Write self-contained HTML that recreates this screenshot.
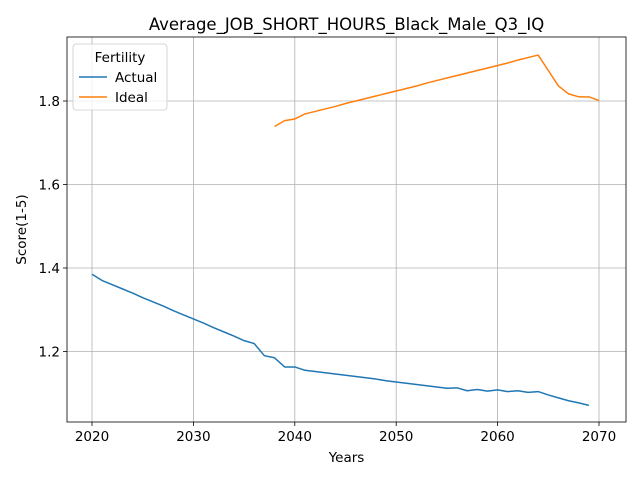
<!DOCTYPE html>
<html><head><meta charset="utf-8"><style>
body{margin:0;background:#fff;font-family:"Liberation Sans","DejaVu Sans",sans-serif;}
svg text{font-family:"DejaVu Sans","Liberation Sans",sans-serif;}
</style></head><body>
<svg id="chart" width="640" height="480" viewBox="0 0 640 480">
<rect x="0" y="0" width="640" height="480" fill="#fff"/>
<g id="grid"></g>
<g id="axes"></g>
<g id="series"></g>
<g id="legend"></g>
</svg>
<script>
const years = [2020,2021,2022,2023,2024,2025,2026,2027,2028,2029,2030,2031,2032,2033,2034,2035,2036,2037,2038,2039,2040,2041,2042,2043,2044,2045,2046,2047,2048,2049,2050,2051,2052,2053,2054,2055,2056,2057,2058,2059,2060,2061,2062,2063,2064,2065,2066,2067,2068,2069];
const actual = [1.385,1.370,1.360,1.350,1.340,1.329,1.319,1.309,1.298,1.288,1.278,1.268,1.257,1.247,1.237,1.226,1.219,1.190,1.185,1.163,1.163,1.155,1.152,1.149,1.146,1.143,1.140,1.137,1.134,1.130,1.127,1.124,1.121,1.118,1.115,1.112,1.113,1.106,1.109,1.105,1.108,1.104,1.106,1.102,1.104,1.096,1.089,1.082,1.077,1.071];
const idealYears = [2038,2039,2040,2041,2042,2043,2044,2045,2046,2047,2048,2049,2050,2051,2052,2053,2054,2055,2056,2057,2058,2059,2060,2061,2062,2063,2064,2065,2066,2067,2068,2069,2070];
const ideal = [1.739,1.753,1.757,1.769,1.775,1.781,1.787,1.794,1.800,1.806,1.812,1.818,1.824,1.830,1.836,1.843,1.849,1.855,1.861,1.867,1.873,1.879,1.885,1.891,1.898,1.904,1.910,1.873,1.836,1.817,1.810,1.810,1.801];
const xTicks = [2020,2030,2040,2050,2060,2070];
const yTicks = [1.2,1.4,1.6,1.8];

const L=67,R=626,T=37,B=422;
const xs = v => 92 + (v-2020)*(599-92)/50;
const ys = v => 101 + (1.8-v)*417.5;
const NS="http://www.w3.org/2000/svg";
function mk(parent,tag,attrs){const e=document.createElementNS(NS,tag);for(const k in attrs)e.setAttribute(k,attrs[k]);document.getElementById(parent).appendChild(e);return e;}

xTicks.forEach(t=>{
  const g=mk('grid','line',{x1:xs(t),x2:xs(t),y1:T,y2:B,stroke:'#b0b0b0','stroke-width':0.8});
  
  
  mk('axes','line',{x1:xs(t),x2:xs(t),y1:B,y2:B+4,stroke:'#000','stroke-width':0.8});
  const tx=mk('axes','text',{x:xs(t),y:B+19,'text-anchor':'middle','font-size':13.5});
  tx.textContent=t;
  
  
});
yTicks.forEach(t=>{
  const g=mk('grid','line',{x1:L,x2:R,y1:ys(t),y2:ys(t),stroke:'#b0b0b0','stroke-width':0.8});
  
  
  mk('axes','line',{x1:L-4,x2:L,y1:ys(t),y2:ys(t),stroke:'#000','stroke-width':0.8});
  const tx=mk('axes','text',{x:L-7,y:ys(t)+5,'text-anchor':'end','font-size':13.5});
  tx.textContent=t.toFixed(1);
  
  
});
const frame=mk('axes','rect',{x:L,y:T,width:R-L,height:B-T,fill:'none',stroke:'#000','stroke-width':0.8});


const title=mk('axes','text',{x:(L+R)/2,y:30,'text-anchor':'middle','font-size':16.5});
title.textContent='Average_JOB_SHORT_HOURS_Black_Male_Q3_IQ';


const xl=mk('axes','text',{x:(L+R)/2,y:462,'text-anchor':'middle','font-size':13.5});
xl.textContent='Years';


const yl=mk('axes','text',{x:0,y:0,'text-anchor':'middle','font-size':13.5,transform:'translate(26,'+((T+B)/2)+') rotate(-90)'});
yl.textContent='Score(1-5)';



const p1=mk('series','polyline',{points:years.map((y,i)=>xs(y)+','+ys(actual[i])).join(' '),fill:'none',stroke:'#1f77b4','stroke-width':1.5,'stroke-linejoin':'round'});


const p2=mk('series','polyline',{points:idealYears.map((y,i)=>xs(y)+','+ys(ideal[i])).join(' '),fill:'none',stroke:'#ff7f0e','stroke-width':1.5,'stroke-linejoin':'round'});



const lb=mk('legend','rect',{x:73,y:44,width:94,height:66,rx:3,fill:'#fff','fill-opacity':0.8,stroke:'#ccc','stroke-width':0.8});


const lt=mk('legend','text',{x:120,y:62,'text-anchor':'middle','font-size':13.5});
lt.textContent='Fertility';


[['Actual','#1f77b4',77],['Ideal','#ff7f0e',97]].forEach(([n,c,y])=>{
  const ln=mk('legend','line',{x1:79,x2:107,y1:y,y2:y,stroke:c,'stroke-width':1.5});
  
  
  const t=mk('legend','text',{x:115,y:y+5,'font-size':13.5});
  t.textContent=n;
  
  
});
</script>
</body></html>
